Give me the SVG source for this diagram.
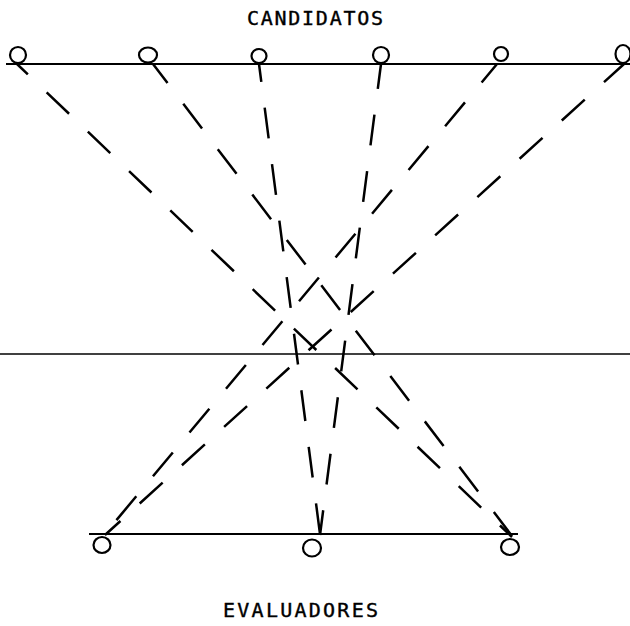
<svg xmlns="http://www.w3.org/2000/svg" width="630" height="626" viewBox="0 0 630 626">
  <style>
    .bg { fill: #ffffff; }
    .base { stroke: #000; stroke-width: 2; fill: none; }
    .mid { stroke: #000; stroke-width: 1.5; fill: none; }
    .node { stroke: #000; stroke-width: 2.2; fill: none; }
    .dash { stroke: #000; stroke-width: 2.5; fill: none; stroke-dasharray: 31 26; }
    .label { font-family: "DejaVu Sans Mono", "Liberation Mono", monospace; font-size: 20px; fill: #000; stroke: #000; stroke-width: 0.4; }
  </style>
  <rect class="bg" x="0" y="0" width="630" height="626"/>

  <g id="axes">
    <line class="base" x1="6" y1="64" x2="630" y2="64"/>
    <line class="mid" x1="0" y1="354" x2="630" y2="354"/>
    <line class="base" x1="89" y1="534" x2="518" y2="534"/>
  </g>

  <g id="connectors">
    <line class="dash" x1="17" y1="64" x2="512" y2="537" stroke-dashoffset="16"/>
    <line class="dash" x1="153" y1="64" x2="512" y2="536" stroke-dashoffset="7"/>
    <line class="dash" x1="259" y1="64" x2="320" y2="534" stroke-dashoffset="13"/>
    <line class="dash" x1="381" y1="64" x2="320" y2="535" stroke-dashoffset="6"/>
    <line class="dash" x1="497" y1="64" x2="104" y2="535" stroke-dashoffset="7"/>
    <line class="dash" x1="624" y1="64" x2="105" y2="535" stroke-dashoffset="4"/>
  </g>

  <g id="candidatos-label">
    <text class="label" x="247" y="25" textLength="136" lengthAdjust="spacing">CANDIDATOS</text>
  </g>
  <g id="c1"><ellipse class="node" cx="18" cy="55" rx="8" ry="8"/></g>
  <g id="c2"><ellipse class="node" cx="148" cy="55" rx="9" ry="7.5"/></g>
  <g id="c3"><ellipse class="node" cx="259" cy="56" rx="7.5" ry="7"/></g>
  <g id="c4"><ellipse class="node" cx="381" cy="55" rx="8" ry="8"/></g>
  <g id="c5"><ellipse class="node" cx="501" cy="54" rx="7" ry="7"/></g>
  <g id="c6"><ellipse class="node" cx="623" cy="54" rx="7.5" ry="9"/></g>

  <g id="e1"><ellipse class="node" cx="102" cy="545" rx="8.5" ry="8"/></g>
  <g id="e2"><ellipse class="node" cx="312" cy="548" rx="9" ry="8.5"/></g>
  <g id="e3"><ellipse class="node" cx="510" cy="547" rx="9" ry="8"/></g>
  <g id="evaluadores-label">
    <text class="label" x="223" y="617" textLength="155" lengthAdjust="spacing">EVALUADORES</text>
  </g>
</svg>
